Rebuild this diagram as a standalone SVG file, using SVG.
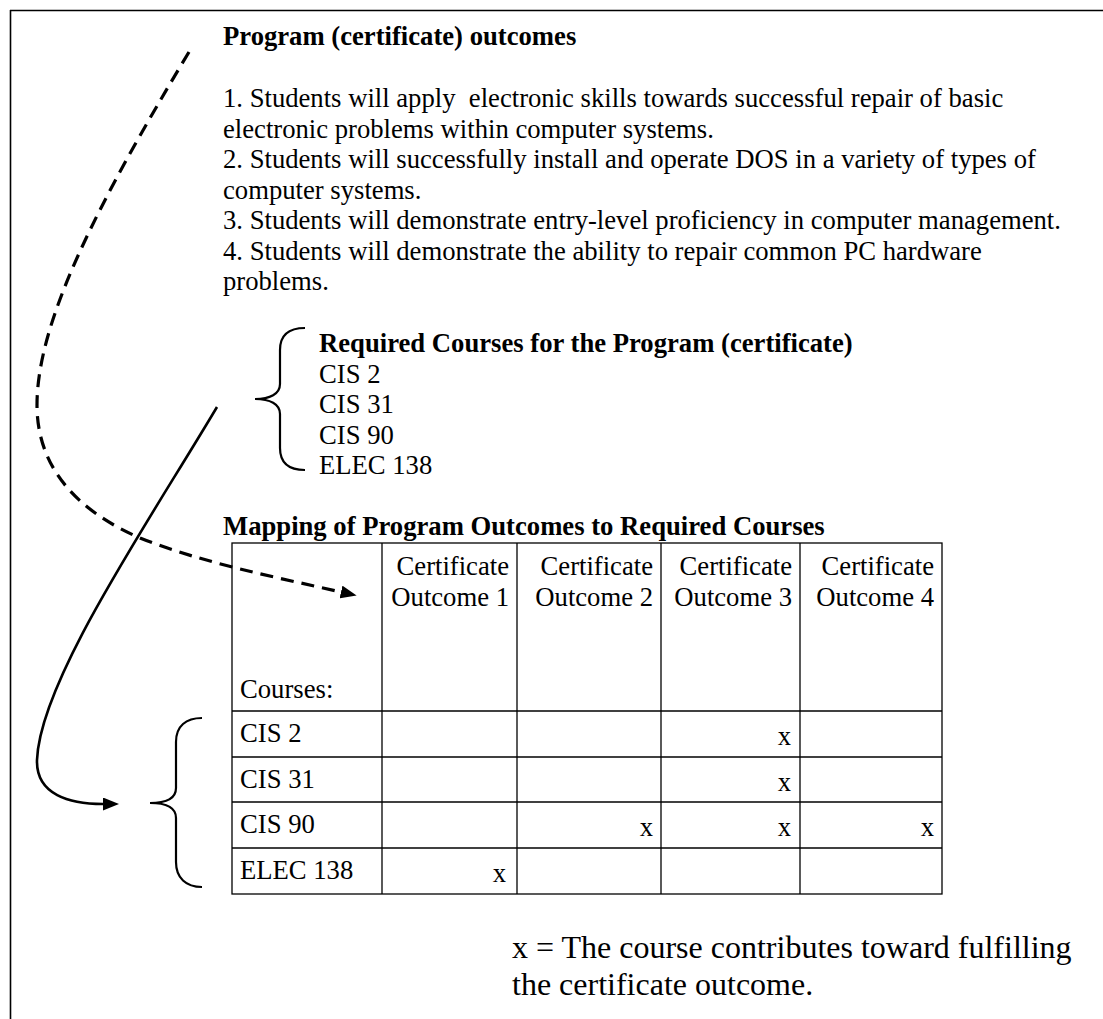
<svg xmlns="http://www.w3.org/2000/svg" width="1103" height="1019" viewBox="0 0 1103 1019">
<style>
text{font-family:"Liberation Serif","Times New Roman",serif;font-size:26.67px;fill:#000}
.b{font-weight:bold}
.r{text-anchor:end}
.lg{font-size:32px}
.cell{fill:none;stroke:#000;stroke-width:1.3}
.brace{fill:none;stroke:#000;stroke-width:2.2}
.dash{fill:none;stroke:#000;stroke-width:3.2;stroke-dasharray:13 8}
.solid{fill:none;stroke:#000;stroke-width:2.6}
</style>
<defs>
<marker id="ah" markerUnits="userSpaceOnUse" markerWidth="16" markerHeight="13" refX="0" refY="6.5" orient="auto">
<path d="M0,0 L16,6.5 L0,13 z" fill="#000"/>
</marker>
</defs>
<g id="frame" fill="none" stroke="#000" stroke-width="1.6">
<line x1="10" y1="10.5" x2="1103" y2="10.5"/>
<line x1="10.5" y1="10" x2="10.5" y2="1019"/>
</g>
<g id="outcomes">
<text class="b" x="223" y="45">Program (certificate) outcomes</text>
<text x="223" y="107" xml:space="preserve">1. Students will apply  electronic skills towards successful repair of basic</text>
<text x="223" y="137.5">electronic problems within computer systems.</text>
<text x="223" y="168">2. Students will successfully install and operate DOS in a variety of types of</text>
<text x="223" y="198.5">computer systems.</text>
<text x="223" y="229">3. Students will demonstrate entry-level proficiency in computer management.</text>
<text x="223" y="259.5">4. Students will demonstrate the ability to repair common PC hardware</text>
<text x="223" y="290">problems.</text>
</g>
<g id="required">
<path class="brace" d="M305,328 C290,328 280,334 280,350 L280,384 C280,394 270,399 255,399 C270,399 280,404 280,414 L280,448 C280,464 290,470 305,470"/>
<text class="b" x="319" y="352">Required Courses for the Program (certificate)</text>
<text x="319" y="383">CIS 2</text>
<text x="319" y="413">CIS 31</text>
<text x="319" y="444">CIS 90</text>
<text x="319" y="474">ELEC 138</text>
</g>
<g id="mapping">
<text class="b" x="223" y="535">Mapping of Program Outcomes to Required Courses</text>
<rect class="cell" x="232" y="543" width="710" height="351"/>
<g class="cell">
<line x1="382" y1="543" x2="382" y2="894"/>
<line x1="517" y1="543" x2="517" y2="894"/>
<line x1="661" y1="543" x2="661" y2="894"/>
<line x1="800" y1="543" x2="800" y2="894"/>
<line x1="232" y1="711" x2="942" y2="711"/>
<line x1="232" y1="757" x2="942" y2="757"/>
<line x1="232" y1="802" x2="942" y2="802"/>
<line x1="232" y1="848" x2="942" y2="848"/>
</g>
<text class="r" x="509" y="575">Certificate</text>
<text class="r" x="509" y="605.5">Outcome 1</text>
<text class="r" x="653" y="575">Certificate</text>
<text class="r" x="653" y="605.5">Outcome 2</text>
<text class="r" x="792" y="575">Certificate</text>
<text class="r" x="792" y="605.5">Outcome 3</text>
<text class="r" x="934" y="575">Certificate</text>
<text class="r" x="934" y="605.5">Outcome 4</text>
<text x="240" y="698">Courses:</text>
<text x="240" y="742">CIS 2</text>
<text x="240" y="788">CIS 31</text>
<text x="240" y="833">CIS 90</text>
<text x="240" y="879">ELEC 138</text>
<text class="r" x="791" y="745">x</text>
<text class="r" x="791" y="791">x</text>
<text class="r" x="653" y="836">x</text>
<text class="r" x="791" y="836">x</text>
<text class="r" x="934" y="836">x</text>
<text class="r" x="506" y="882">x</text>
</g>
<g id="courses-brace">
<path class="brace" d="M202,718 C186,718 176,726 176,742 L176,788 C176,798 168,803 150,803 C168,803 176,808 176,818 L176,862 C176,878 186,887 202,887"/>
</g>
<g id="legend">
<text class="lg" x="512" y="958">x = The course contributes toward fulfilling</text>
<text class="lg" x="512" y="995">the certificate outcome.</text>
</g>
<g id="connectors">
<path class="dash" d="M189,52 C100,200 37,320 37,405 C37,470 80,512 140,538 C200,562 270,576 341,592" marker-end="url(#ah)"/>
<path class="solid" d="M217,407 C150,520 40,680 37,760 C36,795 70,804 103,804" marker-end="url(#ah)"/>
</g>
</svg>
